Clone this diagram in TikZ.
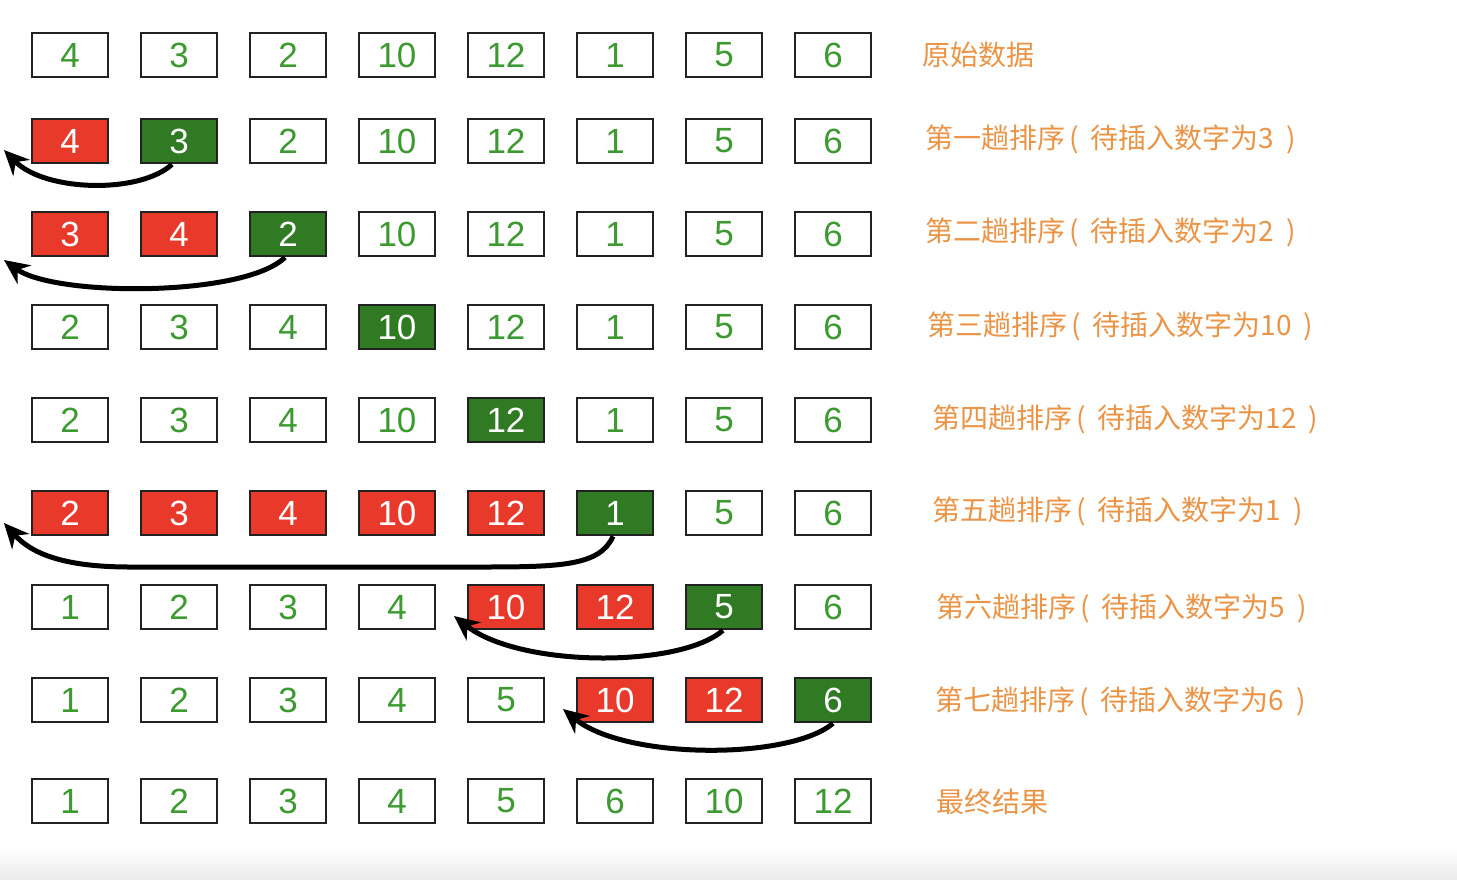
\documentclass[tikz,border=0pt]{standalone}
\usepackage{fontspec}
\setmainfont{Liberation Sans}
\newfontfamily\cjk{Noto Sans CJK SC}
\usetikzlibrary{arrows.meta}
\definecolor{cred}{HTML}{E8392A}
\definecolor{cgreen}{HTML}{2F7A22}
\definecolor{cgreentext}{HTML}{3C9A30}
\definecolor{corange}{HTML}{EB9446}
\definecolor{cborder}{HTML}{222222}
\newcommand{\lp}{\hspace{4pt}(\hspace{12pt}}
\newcommand{\rp}{\hspace{12pt})}
\begin{document}
\begin{tikzpicture}[x=1pt,y=-1pt,
  cell/.style={draw=cborder, line width=2.6pt, minimum width=76pt, minimum height=44pt,
    inner sep=0pt, font=\fontsize{35}{35}\selectfont},
  plain/.style={cell, fill=white, text=cgreentext},
  moved/.style={cell, fill=cred, text=white},
  key/.style={cell, fill=cgreen, text=white},
  lbl/.style={anchor=west, text=corange, inner sep=0pt, font=\cjk\fontsize{28}{28}\selectfont},
  mv/.style={draw=black, line width=5pt, -{Stealth[length=25pt,width=23pt]}}]
\useasboundingbox (0,0) rectangle (1457,879);
\fill[white] (0,0) rectangle (1457,879);
\shade[top color=white, bottom color=black!8] (0,848) rectangle (1457,879);

% rows of cells
\foreach \v/\s [count=\i] in {4/plain,3/plain,2/plain,10/plain,12/plain,1/plain,5/plain,6/plain}
  \node[\s] (r1c\i) at ({70+(\i-1)*109},55) {\v};
\foreach \v/\s [count=\i] in {4/moved,3/key,2/plain,10/plain,12/plain,1/plain,5/plain,6/plain}
  \node[\s] (r2c\i) at ({70+(\i-1)*109},141) {\v};
\foreach \v/\s [count=\i] in {3/moved,4/moved,2/key,10/plain,12/plain,1/plain,5/plain,6/plain}
  \node[\s] (r3c\i) at ({70+(\i-1)*109},234) {\v};
\foreach \v/\s [count=\i] in {2/plain,3/plain,4/plain,10/key,12/plain,1/plain,5/plain,6/plain}
  \node[\s] (r4c\i) at ({70+(\i-1)*109},327) {\v};
\foreach \v/\s [count=\i] in {2/plain,3/plain,4/plain,10/plain,12/key,1/plain,5/plain,6/plain}
  \node[\s] (r5c\i) at ({70+(\i-1)*109},420) {\v};
\foreach \v/\s [count=\i] in {2/moved,3/moved,4/moved,10/moved,12/moved,1/key,5/plain,6/plain}
  \node[\s] (r6c\i) at ({70+(\i-1)*109},513) {\v};
\foreach \v/\s [count=\i] in {1/plain,2/plain,3/plain,4/plain,10/moved,12/moved,5/key,6/plain}
  \node[\s] (r7c\i) at ({70+(\i-1)*109},607) {\v};
\foreach \v/\s [count=\i] in {1/plain,2/plain,3/plain,4/plain,5/plain,10/moved,12/moved,6/key}
  \node[\s] (r8c\i) at ({70+(\i-1)*109},700) {\v};
\foreach \v/\s [count=\i] in {1/plain,2/plain,3/plain,4/plain,5/plain,6/plain,10/plain,12/plain}
  \node[\s] (r9c\i) at ({70+(\i-1)*109},801) {\v};

% labels
\node[lbl] (l1) at (922,55) {原始数据};
\node[lbl] (l2) at (925,139) {第一趟排序\lp 待插入数字为3\rp};
\node[lbl] (l3) at (925,232) {第二趟排序\lp 待插入数字为2\rp};
\node[lbl] (l4) at (927,326) {第三趟排序\lp 待插入数字为10\rp};
\node[lbl] (l5) at (932,419) {第四趟排序\lp 待插入数字为12\rp};
\node[lbl] (l6) at (932,511) {第五趟排序\lp 待插入数字为1\rp};
\node[lbl] (l7) at (936,608) {第六趟排序\lp 待插入数字为5\rp};
\node[lbl] (l8) at (935,701) {第七趟排序\lp 待插入数字为6\rp};
\node[lbl] (l9) at (936,802) {最终结果};

% arrow end points
\coordinate (t2) at (4,150);
\coordinate (t3) at (4,260);
\coordinate (t6) at (4,523);
\coordinate (t7) at (454,616);
\coordinate (t8) at (563,709);

\draw[mv] ([xshift=-7pt]r2c2.south) .. controls (140,194) and (45,192) .. (t2);
\draw[mv] ([xshift=-3pt]r3c3.south) .. controls (245,297) and (55,297) .. (t3);
\draw[mv] ([xshift=-2pt]r6c6.south) .. controls (600,566) and (560,567) .. (480,567)
  -- (130,567) .. controls (60,567) and (30,552) .. (t6);
\draw[mv] ([xshift=-1pt]r7c7.south) .. controls (680,668) and (520,668) .. (t7);
\draw[mv] (r8c8.south) .. controls (790,760) and (625,760) .. (t8);
\end{tikzpicture}
\end{document}
